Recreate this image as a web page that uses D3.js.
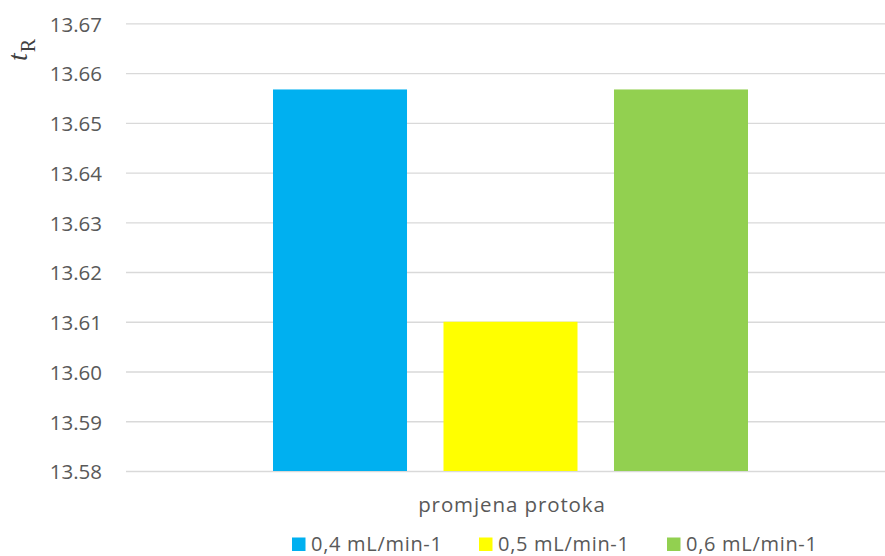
<!DOCTYPE html>
<html><head><meta charset="utf-8">
<script src="https://cdn.jsdelivr.net/npm/d3@7/dist/d3.min.js"></script>
<style>body{margin:0;background:#fff}svg{display:block}</style>
</head><body>
<svg id="c" width="885" height="556"></svg>
<script>
const categories = ["promjena protoka"];
const seriesNames = ["0,4 mL/min-1", "0,5 mL/min-1", "0,6 mL/min-1"];
const seriesValues = [13.6567, 13.610, 13.6567];
const seriesColors = ["#00b0f0", "#ffff00", "#92d050"];
const yTicks = [13.58, 13.59, 13.60, 13.61, 13.62, 13.63, 13.64, 13.65, 13.66, 13.67];

(function () {
const svg = d3.select("#c");
const font = "'Open Sans', sans-serif";
const pLeft = 126, pRight = 895, pTop = 23.3, pBottom = 471;

const y = d3.scaleLinear().domain([13.58, 13.67]).range([pBottom, pTop]);
const x0 = d3.scaleBand().domain(categories).range([pLeft, pRight]).paddingInner(0).paddingOuter(0.3095);
const x1 = d3.scaleBand().domain(seriesNames).range([0, x0.bandwidth()]).paddingInner(0.214).paddingOuter(0);

const yAxis = d3.axisLeft(y).tickValues(yTicks).tickFormat(d3.format(".2f")).tickSize(-(pRight - pLeft)).tickPadding(24);
const gy = svg.append("g").attr("transform", `translate(${pLeft},0)`).call(yAxis);
gy.select(".domain").remove();
gy.selectAll(".tick line").attr("stroke", "#d9d9d9").attr("stroke-width", 1.3);
gy.selectAll(".tick text").attr("fill", "#595959").attr("font-family", font).attr("font-size", 20.5).attr("dy", "0.38em");

const g = svg.append("g");
categories.forEach(cat => {
  seriesNames.forEach((s, i) => {
    g.append("rect")
      .attr("x", x0(cat) + x1(s))
      .attr("y", y(seriesValues[i]))
      .attr("width", x1.bandwidth())
      .attr("height", y(13.58) - y(seriesValues[i]))
      .attr("fill", seriesColors[i]);
  });
  svg.append("text").attr("x", x0(cat) + x0.bandwidth() / 2 + 1.5).attr("y", 511.5)
    .attr("text-anchor", "middle").attr("fill", "#595959")
    .attr("font-family", font).attr("font-size", 20.5).attr("letter-spacing", 0.9).text(cat);
});

const yt = svg.append("text").attr("transform", "translate(27,61) rotate(-90)")
  .attr("text-anchor", "start").attr("fill", "#404040").attr("font-family", "'Liberation Serif', 'DejaVu Serif', serif");
yt.append("tspan").attr("font-style", "italic").attr("font-size", 28).text("t");
yt.append("tspan").attr("font-size", 20).attr("dx", 1).attr("dy", 8).text("R");

const legX = [292, 479, 667];
seriesNames.forEach((s, i) => {
  svg.append("rect").attr("x", legX[i]).attr("y", 537.5).attr("width", 13.5).attr("height", 13.5).attr("fill", seriesColors[i]);
  svg.append("text").attr("x", legX[i] + 19).attr("y", 550.6).attr("fill", "#595959")
    .attr("font-family", font).attr("font-size", 20).attr("letter-spacing", 0.7).text(s);
});
})();
</script>
</body></html>
